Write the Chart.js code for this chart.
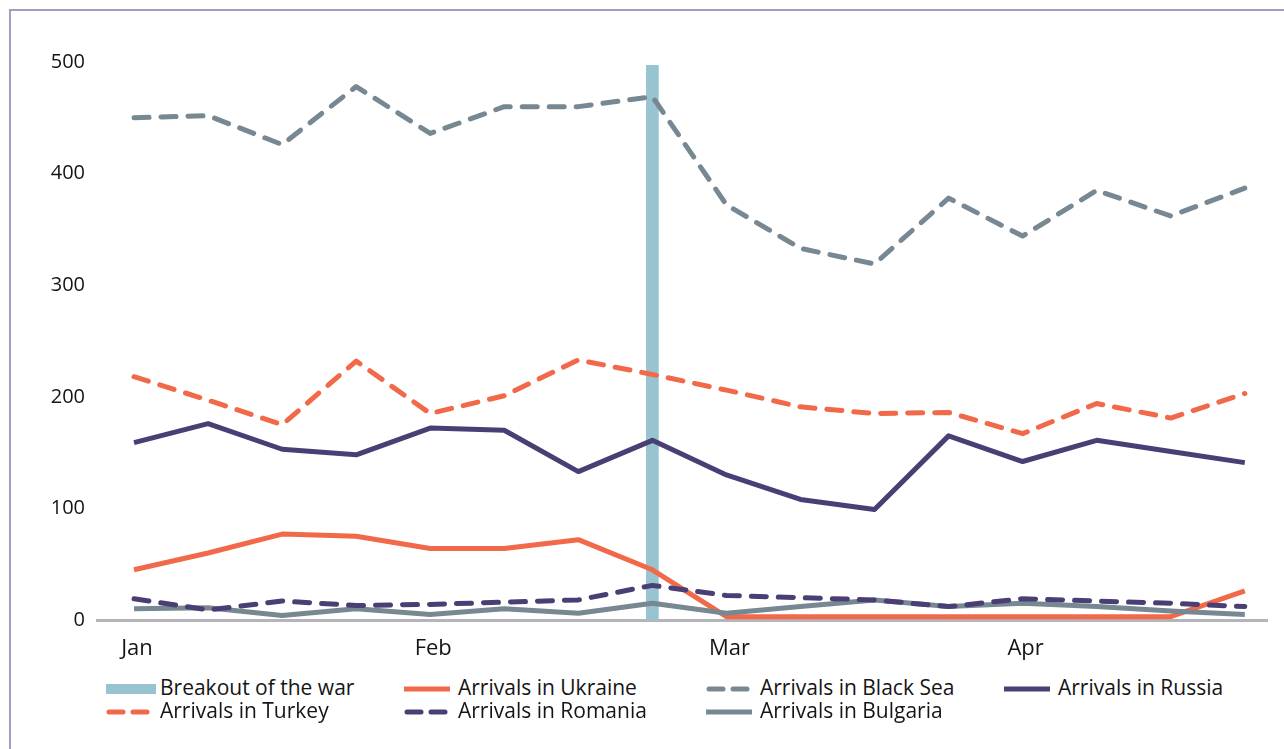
<!DOCTYPE html>
<html>
<head>
<meta charset="utf-8">
<script src="https://cdn.jsdelivr.net/npm/chart.js@4.4.1/dist/chart.umd.min.js"></script>
<style>
  html, body { margin: 0; padding: 0; background: #fff; }
  #wrap { position: relative; width: 1284px; height: 749px; overflow: hidden; font-family: 'Open Sans', sans-serif; }
  #frame { position: absolute; left: 9px; top: 9px; width: 1400px; height: 900px; border-left: 2px solid #a89cbc; border-top: 2px solid #a89cbc; }
  #chartBox { position: absolute; left: 0; top: 0; width: 1284px; height: 670px; }
  .leg { position: absolute; height: 24px; font-size: 21px; color: #151515; white-space: nowrap; line-height: 24px; }
  .leg canvas { position: absolute; left: 0; top: 0; }
  .leg span { position: absolute; left: 54px; top: -2px; }
</style>
</head>
<body>
<div id="wrap">
  <div id="frame"></div>
  <div id="chartBox"><canvas id="chartArrivals"></canvas></div>
  <div id="legend"></div>
</div>
<script>
Chart.defaults.font.family = "'Open Sans', sans-serif";
Chart.defaults.color = '#151515';

// weekly points, Jan -> Apr
const monthLabels = ['Jan', 'Feb', 'Mar', 'Apr'];
const monthTicks = [0, 4, 8, 12];

const breakoutWeek = 7;
const breakoutValue = 497;

const blackSea = [450, 452, 426, 478, 436, 460, 460, 469, 372, 333, 319, 378, 344, 385, 362, 387];
const turkey   = [218, 197, 175, 232, 185, 201, 233, 220, 206, 191, 185, 186, 167, 194, 181, 203];
const russia   = [159, 176, 153, 148, 172, 170, 133, 161, 130, 108, 99, 165, 142, 161, 151, 141];
const ukraine  = [45, 60, 77, 75, 64, 64, 72, 45, 3, 3, 3, 3, 3, 3, 3, 26];
const romania  = [19, 9, 17, 13, 14, 16, 18, 31, 22, 20, 18, 12, 19, 17, 15, 12];
const bulgaria = [10, 11, 4, 10, 5, 10, 6, 15, 6, 12, 18, 12, 15, 12, 8, 5];

const orange = '#f2694a';
const purple = '#4a3f74';
const grey = '#788892';
const blue = '#98c3d1';

const toPoints = arr => arr.map((v, i) => ({ x: i, y: v }));

function lineSet(label, values, color, dashed) {
    return {
        type: 'line',
        label: label,
        data: toPoints(values),
        borderColor: color,
        backgroundColor: color,
        borderWidth: 5,
        borderDash: dashed ? [15, 12] : [],
        borderCapStyle: dashed ? 'round' : 'butt',
        borderJoinStyle: 'round',
        pointRadius: 0,
        tension: 0,
        order: 1,
        swatch: dashed ? 'dash' : 'line'
    };
}

const ds = {
    breakout: {
        type: 'bar',
        label: 'Breakout of the war',
        data: [{ x: breakoutWeek, y: breakoutValue }],
        backgroundColor: blue,
        barThickness: 12,
        order: 10,
        swatch: 'bar'
    },
    ukraine: lineSet('Arrivals in Ukraine', ukraine, orange, false),
    blackSea: lineSet('Arrivals in Black Sea', blackSea, grey, true),
    russia: lineSet('Arrivals in Russia', russia, purple, false),
    turkey: lineSet('Arrivals in Turkey', turkey, orange, true),
    romania: lineSet('Arrivals in Romania', romania, purple, true),
    bulgaria: lineSet('Arrivals in Bulgaria', bulgaria, grey, false)
};

const ctx = document.getElementById('chartArrivals').getContext('2d');
const chart = new Chart(ctx, {
    type: 'line',
    data: {
        datasets: [ds.breakout, ds.blackSea, ds.turkey, ds.russia, ds.romania, ds.bulgaria, ds.ukraine]
    },
    options: {
        responsive: true,
        maintainAspectRatio: false,
        animation: false,
        layout: { padding: { top: 62, right: 17, left: 0, bottom: 0 } },
        plugins: {
            legend: { display: false },
            tooltip: { enabled: false }
        },
        scales: {
            x: {
                type: 'linear',
                min: -0.5,
                max: 15.3,
                offset: false,
                grid: { display: false, drawTicks: false },
                border: { display: true, color: '#b5b4ba', width: 3 },
                afterBuildTicks: (scale) => {
                    scale.ticks = monthTicks.map(v => ({ value: v }));
                },
                afterFit: (scale) => { scale.height = 50; },
                ticks: {
                    padding: 16,
                    font: { size: 22 },
                    maxRotation: 0,
                    labelOffset: 3,
                    callback: (value) => monthLabels[monthTicks.indexOf(value)]
                }
            },
            y: {
                min: 0,
                max: 500,
                grid: { display: false, drawTicks: false },
                border: { display: false },
                afterFit: (scale) => { scale.width = 97; },
                ticks: {
                    stepSize: 100,
                    padding: 12,
                    font: { size: 20 }
                }
            }
        }
    }
});

// legend laid out in four columns like the original
const legendRows = [
    [ds.breakout, ds.ukraine, ds.blackSea, ds.russia],
    [ds.turkey, ds.romania, ds.bulgaria]
];
const colX = [106, 404, 706, 1004];
const rowY = [677, 700];

const legendEl = document.getElementById('legend');
legendRows.forEach((row, r) => {
    row.forEach((d, c) => {
        const item = document.createElement('div');
        item.className = 'leg';
        item.style.left = colX[c] + 'px';
        item.style.top = rowY[r] + 'px';
        const sw = document.createElement('canvas');
        sw.width = 52;
        sw.height = 24;
        const g = sw.getContext('2d');
        const color = d.swatch === 'bar' ? d.backgroundColor : d.borderColor;
        g.fillStyle = color;
        g.strokeStyle = color;
        if (d.swatch === 'bar') {
            g.fillRect(0, 7, 50, 10);
        } else if (d.swatch === 'line') {
            g.lineWidth = 5;
            g.beginPath(); g.moveTo(0, 12); g.lineTo(46, 12); g.stroke();
        } else {
            g.lineWidth = 5;
            g.lineCap = 'round';
            g.beginPath(); g.moveTo(3, 12); g.lineTo(17, 12); g.stroke();
            g.beginPath(); g.moveTo(27, 12); g.lineTo(41, 12); g.stroke();
        }
        item.appendChild(sw);
        const txt = document.createElement('span');
        txt.textContent = d.label;
        item.appendChild(txt);
        legendEl.appendChild(item);
    });
});
</script>
</body>
</html>
